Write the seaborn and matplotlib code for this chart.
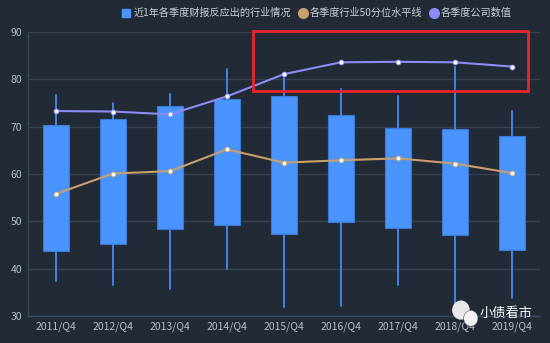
import matplotlib
matplotlib.use("Agg")
import matplotlib.pyplot as plt
import seaborn as sns
import pandas as pd
from matplotlib.patches import Rectangle, Ellipse
from matplotlib.lines import Line2D

quarters = ["2011/Q4", "2012/Q4", "2013/Q4", "2014/Q4", "2015/Q4",
            "2016/Q4", "2017/Q4", "2018/Q4", "2019/Q4"]
whisker_low = [37.4, 36.5, 35.8, 39.9, 32.0, 32.2, 36.5, 32.3, 33.9]
box_low = [43.7, 45.2, 48.4, 49.2, 47.3, 49.9, 48.5, 47.2, 43.9]
box_high = [70.4, 71.7, 74.4, 75.9, 76.4, 72.5, 69.7, 69.6, 68.0]
whisker_high = [76.6, 75.0, 76.8, 82.1, 80.8, 77.9, 76.4, 82.7, 73.3]
industry_median = [55.8, 60.1, 60.6, 65.2, 62.4, 62.9, 63.3, 62.2, 60.2]
company_value = [73.3, 73.2, 72.6, 76.4, 81.1, 83.6, 83.7, 83.6, 82.7]
legend_labels = ["近1年各季度财报反应出的行业情况", "各季度行业50分位水平线", "各季度公司数值"]

BG = "#222a36"
sns.set_theme(style="dark")
plt.rcParams['font.family'] = ['Noto Sans CJK SC', 'DejaVu Sans']

fig = plt.figure(figsize=(5.5, 3.43), dpi=100, facecolor=BG)
ax = fig.add_axes([0.05, 0.0787, 0.9327, 0.828])
ax.set_facecolor(BG)

x = list(range(len(quarters)))
stats = []
for i in x:
    stats.append(dict(whislo=whisker_low[i], q1=box_low[i], med=box_low[i],
                      q3=box_high[i], whishi=whisker_high[i], fliers=[]))
ax.bxp(stats, positions=x, widths=0.44, patch_artist=True, showcaps=False,
       showfliers=False,
       boxprops=dict(facecolor="#4a94ff", edgecolor="#3b78d4", linewidth=0.8),
       whiskerprops=dict(color="#3f86e8", linewidth=1.4),
       medianprops=dict(linewidth=0))

df = pd.DataFrame({"x": x, "median": industry_median, "company": company_value})
sns.lineplot(data=df, x="x", y="median", ax=ax, color="#c9a06c", linewidth=1.5,
             marker="o", markersize=3.5, markerfacecolor="white",
             markeredgecolor="#c9a06c", markeredgewidth=0.6, zorder=5)
sns.lineplot(data=df, x="x", y="company", ax=ax, color="#8b8cf5", linewidth=1.5,
             marker="o", markersize=3.5, markerfacecolor="white",
             markeredgecolor="#8b8cf5", markeredgewidth=0.6, zorder=5)

ax.set_xlim(-0.5, len(quarters) - 0.5)
ax.set_ylim(30, 90)
ax.set_yticks([30, 40, 50, 60, 70, 80, 90])
ax.set_xticks(x)
ax.set_xticklabels(quarters)
ax.set_xlabel("")
ax.set_ylabel("")
ax.grid(axis="y", color="#36424f", linewidth=1)
ax.grid(axis="x", visible=False)
ax.tick_params(axis="both", colors="#b4bfcc", labelsize=7.5, length=0, pad=4)
for s in ["top", "right"]:
    ax.spines[s].set_visible(False)
ax.spines["left"].set_color("#3b4a5e")
ax.spines["bottom"].set_color("#3b4a5e")
ax.spines["left"].set_linewidth(1)
ax.spines["bottom"].set_linewidth(1)

# red highlight rectangle
rect = Rectangle((3.46, 77.5), 8.28 - 3.46, 90.2 - 77.5, fill=False,
                 edgecolor="#e8262b", linewidth=2, zorder=6, clip_on=False)
ax.add_patch(rect)

handles = [
    Line2D([0], [0], marker="s", color="none", markerfacecolor="#4a94ff",
           markeredgecolor="#4a94ff", markersize=6),
    Line2D([0], [0], marker="o", color="none", markerfacecolor="#c9a06c",
           markeredgecolor="#c9a06c", markersize=7),
    Line2D([0], [0], marker="o", color="none", markerfacecolor="#8b8cf5",
           markeredgecolor="#8b8cf5", markersize=7),
]
leg = fig.legend(handles, legend_labels, loc="center right",
                 bbox_to_anchor=(0.94, 0.962), ncol=3, frameon=False,
                 fontsize=7.3, handlelength=0.8, handletextpad=0.3,
                 columnspacing=0.75, borderpad=0)
for t in leg.get_texts():
    t.set_color("#c8d0da")

# watermark
fig.patches.append(Ellipse((0.838, 0.096), 0.032, 0.056, transform=fig.transFigure,
                           facecolor="#e8e8e8", edgecolor="none", zorder=9))
fig.patches.append(Ellipse((0.856, 0.072), 0.026, 0.046, transform=fig.transFigure,
                           facecolor="#f4f4f4", edgecolor="#555", linewidth=0.4, zorder=9))
fig.text(0.968, 0.085, "小债看市", color="white", fontsize=9.5,
         ha="right", va="center", zorder=10)

fig.savefig("out.png", dpi=100, facecolor=BG)
